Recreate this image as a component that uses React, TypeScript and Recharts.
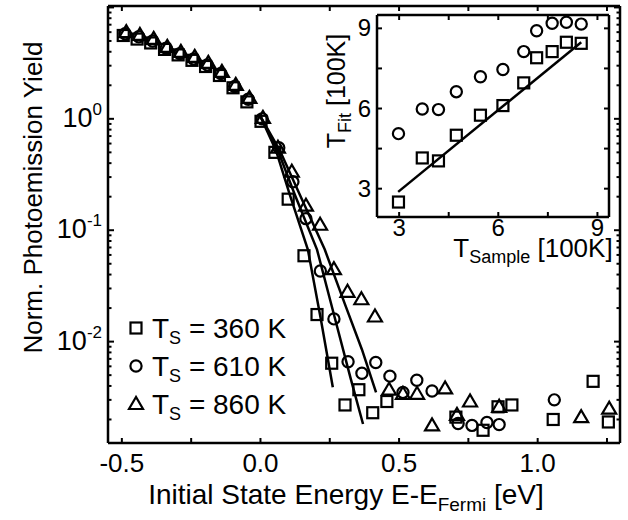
import { ScatterChart, Scatter, XAxis, YAxis, Legend, Label } from 'recharts'

const FONT = '"Liberation Sans", Arial, Helvetica, sans-serif'
const INK = '#000'

// main panel, squares: T_S = 360 K
const energy360 = [-0.495, -0.445, -0.396, -0.346, -0.297, -0.247, -0.198, -0.148, -0.099, -0.049, 0.002, 0.052, 0.1, 0.157, 0.204, 0.257, 0.305, 0.355, 0.405, 0.456, 0.705, 0.803, 0.857, 0.907, 1.056, 1.2, 1.255]
const yield360 = [5.6, 5.2, 4.8, 4.2, 3.75, 3.35, 2.95, 2.45, 1.9, 1.42, 0.95, 0.5, 0.19, 0.059, 0.0175, 0.0064, 0.0027, 0.0037, 0.0023, 0.0029, 0.0021, 0.0016, 0.0026, 0.0027, 0.002, 0.0044, 0.0019]

// circles: T_S = 610 K
const energy610 = [-0.488, -0.439, -0.389, -0.34, -0.291, -0.241, -0.192, -0.143, -0.093, -0.044, 0.006, 0.066, 0.117, 0.164, 0.216, 0.265, 0.316, 0.366, 0.416, 0.467, 0.514, 0.564, 0.619, 0.713, 0.763, 0.817, 0.861, 1.06]
const yield610 = [5.8, 5.45, 5.0, 4.3, 3.85, 3.45, 3.05, 2.55, 1.95, 1.5, 1.0, 0.55, 0.272, 0.127, 0.043, 0.016, 0.0066, 0.0052, 0.0065, 0.0049, 0.0035, 0.0045, 0.0036, 0.00184, 0.00177, 0.00188, 0.0018, 0.003]

// triangles: T_S = 860 K
const energy860 = [-0.484, -0.435, -0.385, -0.336, -0.287, -0.237, -0.188, -0.139, -0.089, -0.04, 0.009, 0.063, 0.113, 0.164, 0.215, 0.265, 0.314, 0.364, 0.413, 0.464, 0.514, 0.565, 0.619, 0.666, 0.709, 0.756, 0.861, 1.157, 1.258]
const yield860 = [6.0, 5.66, 5.22, 4.42, 3.99, 3.6, 3.18, 2.64, 2.02, 1.54, 1.02, 0.55, 0.335, 0.166, 0.112, 0.0447, 0.028, 0.024, 0.0168, 0.0037, 0.0034, 0.0034, 0.00177, 0.0038, 0.0022, 0.0029, 0.0026, 0.0021, 0.0025]

// fitted curves
const fitEnergy360 = [0.0, 0.056, 0.106, 0.171, 0.218, 0.261]
const fitYield360 = [1.05, 0.52, 0.208, 0.067, 0.0158, 0.0039]
const fitEnergy610 = [0.0, 0.063, 0.124, 0.204, 0.265, 0.326, 0.37]
const fitYield610 = [1.05, 0.52, 0.208, 0.067, 0.0175, 0.0046, 0.00182]
const fitEnergy860 = [0.0, 0.07, 0.142, 0.232, 0.305, 0.366, 0.417]
const fitYield860 = [1.05, 0.52, 0.208, 0.067, 0.0216, 0.0085, 0.0035]

// inset: fitted vs sample temperature [100K]
const sampleT = [2.98, 3.7, 4.19, 4.73, 5.46, 6.14, 6.77, 7.16, 7.63, 8.06, 8.51]
const fitTSquares = [2.5, 4.15, 4.04, 5.0, 5.75, 6.11, 6.96, 7.9, 8.13, 8.48, 8.44]
const fitTCircles = [5.06, 5.98, 5.96, 6.63, 7.19, 7.46, 8.13, 8.91, 9.19, 9.23, 9.16]
const guideT = [2.97, 8.51]
const guideFit = [2.88, 8.48]

const xTicks = [-0.5, -0.25, 0, 0.25, 0.5, 0.75, 1, 1.25]
const yTicks = [0.002, 0.003, 0.004, 0.005, 0.006, 0.007, 0.008, 0.009, 0.01, 0.02, 0.03, 0.04, 0.05, 0.06, 0.07, 0.08, 0.09, 0.1, 0.2, 0.3, 0.4, 0.5, 0.6, 0.7, 0.8, 0.9, 1, 2, 3, 4, 5, 6, 7, 8, 9, 10]
const insetTicks = [3, 4.5, 6, 7.5, 9]
const insetLabels = [3, 6, 9]

const pts = (xs: number[], ys: number[]) => xs.map((x, i) => ({ x, y: ys[i] }))

const frame = { stroke: INK, strokeWidth: 2.5 }

function SquareMark({ cx, cy }: any) {
  return <rect x={cx - 5.5} y={cy - 5.5} width={11} height={11} fill="none" stroke={INK} strokeWidth={2.2} />
}
function CircleMark({ cx, cy }: any) {
  return <circle cx={cx} cy={cy} r={5.6} fill="none" stroke={INK} strokeWidth={2.2} />
}
function TriangleMark({ cx, cy }: any) {
  return <polygon points={`${cx},${cy - 7} ${cx - 7},${cy + 5} ${cx + 7},${cy + 5}`} fill="none" stroke={INK} strokeWidth={2.2} />
}
const NoMark = () => <g />

const isHalf = (v: number) => Math.abs(v * 2 - Math.round(v * 2)) < 1e-6

function BottomTick({ x, y, payload }: any) {
  const v = payload.value
  return (
    <g>
      <line x1={x} y1={y} x2={x} y2={y - 5} stroke={INK} strokeWidth={2} />
      {isHalf(v) && (
        <text x={x} y={y + 29} textAnchor="middle" fontSize={26} fontFamily={FONT} fill={INK}>{v.toFixed(1)}</text>
      )}
    </g>
  )
}
function TopTick({ x, y }: any) {
  return <line x1={x} y1={y} x2={x} y2={y + 5} stroke={INK} strokeWidth={2} />
}
function LeftLogTick({ x, y, payload }: any) {
  const e = Math.log10(payload.value)
  const decade = Math.abs(e - Math.round(e)) < 1e-6
  return (
    <g>
      <line x1={x} y1={y} x2={x + (decade ? 6 : 3.5)} y2={y} stroke={INK} strokeWidth={2} />
      {decade && Math.round(e) <= 0 && (
        <text x={x - 6} y={y + 8} textAnchor="end" fontSize={27} fontFamily={FONT} fill={INK}>
          10<tspan dy={-12} fontSize={17}>{Math.round(e)}</tspan>
        </text>
      )}
    </g>
  )
}
function RightLogTick({ x, y, payload }: any) {
  const e = Math.log10(payload.value)
  const decade = Math.abs(e - Math.round(e)) < 1e-6
  return <line x1={x} y1={y} x2={x - (decade ? 6 : 3.5)} y2={y} stroke={INK} strokeWidth={2} />
}

function InsetBottomTick({ x, y, payload }: any) {
  return (
    <g>
      <line x1={x} y1={y} x2={x} y2={y - 5} stroke={INK} strokeWidth={2} />
      {insetLabels.includes(payload.value) && (
        <text x={x} y={y + 19} textAnchor="middle" fontSize={24} fontFamily={FONT} fill={INK}>{payload.value}</text>
      )}
    </g>
  )
}
function InsetLeftTick({ x, y, payload }: any) {
  return (
    <g>
      <line x1={x} y1={y} x2={x + 5} y2={y} stroke={INK} strokeWidth={2} />
      {insetLabels.includes(payload.value) && (
        <text x={x - 6} y={y + 8} textAnchor="end" fontSize={24} fontFamily={FONT} fill={INK}>{payload.value}</text>
      )}
    </g>
  )
}
function InsetTopTick({ x, y }: any) {
  return <line x1={x} y1={y} x2={x} y2={y + 5} stroke={INK} strokeWidth={2} />
}
function InsetRightTick({ x, y }: any) {
  return <line x1={x} y1={y} x2={x - 5} y2={y} stroke={INK} strokeWidth={2} />
}

function XTitle({ viewBox }: any) {
  const cx = viewBox.x + viewBox.width / 2 - 18
  return (
    <text x={cx} y={viewBox.y + 61} textAnchor="middle" fontSize={28} fontFamily={FONT} fill={INK}>
      Initial State Energy E-E<tspan dy={7} fontSize={19}>Fermi</tspan><tspan dy={-7}> [eV]</tspan>
    </text>
  )
}
function YTitle({ viewBox }: any) {
  const x = viewBox.x + viewBox.width - 66
  const y = viewBox.y + viewBox.height / 2 - 27
  return (
    <text x={x} y={y} transform={`rotate(-90, ${x}, ${y})`} textAnchor="middle" fontSize={26} fontFamily={FONT} fill={INK}>
      Norm. Photoemission Yield
    </text>
  )
}
function InsetXTitle({ viewBox }: any) {
  const cx = viewBox.x + viewBox.width / 2 + 40
  return (
    <text x={cx} y={viewBox.y + 40} textAnchor="middle" fontSize={26} fontFamily={FONT} fill={INK}>
      T<tspan dy={6} fontSize={18}>Sample</tspan><tspan dy={-6}> [100K]</tspan>
    </text>
  )
}
function InsetYTitle({ viewBox }: any) {
  const x = viewBox.x + viewBox.width - 32
  const y = viewBox.y + 76
  return (
    <text x={x} y={y} transform={`rotate(-90, ${x}, ${y})`} textAnchor="middle" fontSize={25} fontFamily={FONT} fill={INK}>
      T<tspan dy={6} fontSize={18}>Fit</tspan><tspan dy={-6}> [100K]</tspan>
    </text>
  )
}

const legendRows = [
  { label: '360 K', Mark: SquareMark },
  { label: '610 K', Mark: CircleMark },
  { label: '860 K', Mark: TriangleMark },
]

function LegendBox() {
  return (
    <svg width={210} height={120}>
      {legendRows.map(({ label, Mark }, i) => {
        const cy = 20 + i * 38
        return (
          <g key={label}>
            <Mark cx={11} cy={cy} />
            <text x={27} y={cy + 10} fontSize={28} fontFamily={FONT} fill={INK}>
              T<tspan dy={6} fontSize={18}>S</tspan><tspan dy={-6}> = {label}</tspan>
            </text>
          </g>
        )
      })}
    </svg>
  )
}

export default function App() {
  return (
    <div style={{ position: 'absolute', left: 0, top: 0, width: 628, height: 520, background: '#fff' }}>
      <ScatterChart width={628} height={520} margin={{ top: 5, right: 7, bottom: 76, left: 107 }}>
        <XAxis type="number" dataKey="x" domain={[-0.55, 1.297]} allowDataOverflow ticks={xTicks} interval={0}
          tickSize={0} tickMargin={0} height={1} axisLine={frame} tickLine={false} tick={<BottomTick />}>
          <Label content={<XTitle />} />
        </XAxis>
        <XAxis xAxisId="top" orientation="top" type="number" dataKey="x" domain={[-0.55, 1.297]} allowDataOverflow
          ticks={xTicks} interval={0} tickSize={0} tickMargin={0} height={1} axisLine={frame} tickLine={false} tick={<TopTick />} />
        <YAxis type="number" dataKey="y" scale="log" domain={[0.00123, 10.3]} allowDataOverflow ticks={yTicks} interval={0}
          tickSize={0} tickMargin={0} width={1} axisLine={frame} tickLine={false} tick={<LeftLogTick />}>
          <Label content={<YTitle />} />
        </YAxis>
        <YAxis yAxisId="right" orientation="right" type="number" dataKey="y" scale="log" domain={[0.00123, 10.3]} allowDataOverflow
          ticks={yTicks} interval={0} tickSize={0} tickMargin={0} width={1} axisLine={frame} tickLine={false} tick={<RightLogTick />} />
        <Scatter data={pts(energy360, yield360)} shape={SquareMark} isAnimationActive={false} />
        <Scatter data={pts(energy610, yield610)} shape={CircleMark} isAnimationActive={false} />
        <Scatter data={pts(energy860, yield860)} shape={TriangleMark} isAnimationActive={false} />
        <Scatter data={pts(fitEnergy360, fitYield360)} shape={NoMark} line={{ stroke: INK, strokeWidth: 2.5 }} isAnimationActive={false} />
        <Scatter data={pts(fitEnergy610, fitYield610)} shape={NoMark} line={{ stroke: INK, strokeWidth: 2.5 }} isAnimationActive={false} />
        <Scatter data={pts(fitEnergy860, fitYield860)} shape={NoMark} line={{ stroke: INK, strokeWidth: 2.5 }} isAnimationActive={false} />
        <Legend layout="vertical" align="center" verticalAlign="middle" content={<LegendBox />}
          wrapperStyle={{ left: 125, top: 308, width: 210, height: 120 }} />
      </ScatterChart>

      <div style={{ position: 'absolute', left: 300, top: 0 }}>
        <ScatterChart width={322} height={272} margin={{ top: 14, right: 12, bottom: 54, left: 76 }}>
          <XAxis type="number" dataKey="x" domain={[2.33, 9.35]} allowDataOverflow ticks={insetTicks} interval={0}
            tickSize={0} tickMargin={0} height={1} axisLine={frame} tickLine={false} tick={<InsetBottomTick />}>
            <Label content={<InsetXTitle />} />
          </XAxis>
          <XAxis xAxisId="top" orientation="top" type="number" dataKey="x" domain={[2.33, 9.35]} allowDataOverflow
            ticks={insetTicks} interval={0} tickSize={0} tickMargin={0} height={1} axisLine={frame} tickLine={false} tick={<InsetTopTick />} />
          <YAxis type="number" dataKey="y" domain={[1.94, 9.5]} allowDataOverflow ticks={insetTicks} interval={0}
            tickSize={0} tickMargin={0} width={1} axisLine={frame} tickLine={false} tick={<InsetLeftTick />}>
            <Label content={<InsetYTitle />} />
          </YAxis>
          <YAxis yAxisId="right" orientation="right" type="number" dataKey="y" domain={[1.94, 9.5]} allowDataOverflow
            ticks={insetTicks} interval={0} tickSize={0} tickMargin={0} width={1} axisLine={frame} tickLine={false} tick={<InsetRightTick />} />
          <Scatter data={pts(sampleT, fitTCircles)} shape={CircleMark} isAnimationActive={false} />
          <Scatter data={pts(sampleT, fitTSquares)} shape={SquareMark} isAnimationActive={false} />
          <Scatter data={pts(guideT, guideFit)} shape={NoMark} line={{ stroke: INK, strokeWidth: 2.5 }} isAnimationActive={false} />
        </ScatterChart>
      </div>
    </div>
  )
}
